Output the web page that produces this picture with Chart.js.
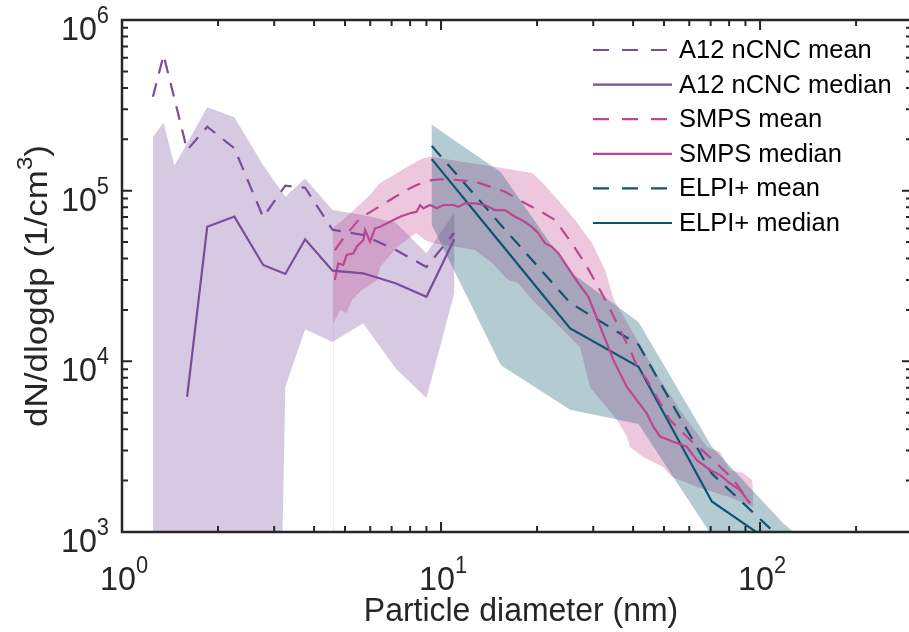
<!DOCTYPE html>
<html><head><meta charset="utf-8">
<script src="https://cdn.jsdelivr.net/npm/chart.js@4.4.1/dist/chart.umd.min.js"></script>
<style>html,body{margin:0;padding:0;background:#fff;}canvas{display:block;}</style>
</head><body>
<canvas id="c" width="909" height="632"></canvas>
<script>
// ---------------- data ----------------
const xTickExps = [0, 1, 2];
const yTickExps = [3, 4, 5, 6];

const a12MeanX   = [1.25, 1.35, 1.6, 1.85, 2.25, 2.77, 3.25, 3.75, 4.57, 5.7, 7.2, 9.0, 11.0];
const a12MeanY   = [3.55e5, 6.24e5, 1.73e5, 2.37e5, 1.77e5, 7.0e4, 1.07e5, 1.04e5, 5.9e4, 5.5e4, 4.5e4, 3.57e4, 5.65e4];
const a12MedianX = [1.6, 1.85, 2.25, 2.77, 3.25, 3.75, 4.57, 5.7, 7.2, 9.0, 11.0];
const a12MedianY = [6.2e3, 6.15e4, 7.05e4, 3.67e4, 3.25e4, 5.19e4, 3.4e4, 3.28e4, 2.87e4, 2.39e4, 5.19e4];
const a12BandX   = [1.25, 1.35, 1.46, 1.85, 2.25, 2.77, 3.25, 3.75, 4.57, 5.7, 7.2, 9.0, 11.0];
const a12UpperY  = [2.07e5, 2.5e5, 1.4e5, 3.08e5, 2.69e5, 1.41e5, 9.2e4, 1.18e5, 7.7e4, 7.2e4, 6.5e4, 4.3e4, 7.4e4];
const a12LowerY  = [1e-3, 1e-3, 1e-3, 1e-3, 1e-3, 1e-3, 7.1e3, 1.54e4, 1.3e4, 1.67e4, 9.1e3, 6.1e3, 2.5e4];

const smpsMeanX = [4.65, 4.94, 5.57, 6.52, 6.92, 7.81, 8.39, 9.35, 10.29, 12.78, 15.87, 18.34, 20.18, 22.78, 25.69, 28.28, 30.6, 33.4, 36.4, 39.1, 41.2, 44.2, 52.2, 60.4, 71.3, 82.3, 93.0];
const smpsMeanY = [4.49e4, 5.26e4, 6.89e4, 8.24e4, 8.82e4, 1.01e5, 1.08e5, 1.155e5, 1.17e5, 1.13e5, 9.86e4, 8.43e4, 7.7e4, 6.73e4, 4.92e4, 3.75e4, 2.88e4, 2.14e4, 1.53e4, 1.17e4, 9.3e3, 7.8e3, 4.53e3, 3.46e3, 2.64e3, 2.04e3, 1.48e3];
const smpsMedianX = [4.65, 4.76, 4.94, 5.06, 5.31, 5.44, 5.71, 5.78, 5.99, 6.21, 6.44, 6.92, 7.44, 7.99, 8.39, 8.6, 8.8, 9.24, 9.69, 10.17, 10.93, 11.33, 11.89, 12.78, 13.74, 14.77, 15.87, 17.06, 17.91, 19.24, 20.18, 21.18, 22.23, 23.32, 24.48, 25.69, 26.94, 28.96, 30.77, 33.07, 34.68, 36.4, 38.2, 41.07, 44.14, 46.3, 48.6, 53.5, 58.9, 63.3, 69.7, 74.9, 80.5, 86.6, 93.0];
const smpsMedianY = [3.0e4, 3.75e4, 3.67e4, 4.2e4, 4.3e4, 4.7e4, 5.14e4, 5.88e4, 5.02e4, 6.02e4, 6.15e4, 6.58e4, 7.04e4, 7.37e4, 7.53e4, 8.24e4, 7.88e4, 8.24e4, 7.88e4, 8.24e4, 8.24e4, 8.05e4, 8.43e4, 8.43e4, 8.24e4, 7.7e4, 7.7e4, 7.04e4, 6.73e4, 6.15e4, 5.63e4, 4.92e4, 4.7e4, 4.3e4, 3.75e4, 3.28e4, 2.87e4, 2.39e4, 1.8e4, 1.28e4, 1.02e4, 8.5e3, 7.1e3, 5.93e3, 4.96e3, 4.14e3, 3.62e3, 3.38e3, 3.16e3, 2.64e3, 2.31e3, 2.16e3, 1.93e3, 1.76e3, 1.47e3];
const smpsUpperX = [4.585, 4.93, 5.45, 5.99, 6.44, 6.92, 7.99, 8.78, 9.24, 12.51, 15.53, 19.29, 20.73, 23.27, 26.31, 29.74, 32.67, 34.85, 42.06, 48.6, 56.1, 68.2, 74.9, 80.5, 88.5, 94.4, 95.1];
const smpsUpperY = [6.04e4, 6.73e4, 8.02e4, 9.43e4, 1.11e5, 1.2e5, 1.41e5, 1.55e5, 1.58e5, 1.45e5, 1.36e5, 1.27e5, 1.12e5, 8.82e4, 6.73e4, 4.94e4, 3.43e4, 2.29e4, 1.25e4, 7.8e3, 5.19e3, 3.15e3, 2.94e3, 2.31e3, 2.22e3, 2.02e3, 1.7e3];
const smpsLowerX = [4.585, 4.6, 4.83, 5.06, 5.26, 5.65, 5.86, 6.3, 6.44, 7.28, 8.35, 8.91, 9.37, 12.78, 14.45, 16.22, 17.43, 19.71, 23.6, 27.3, 29.3, 35.6, 38.3, 39.1, 43.0, 49.7, 53.0, 64.9, 80.5, 95.1];
const smpsLowerY = [1e-3, 1.68e4, 2.0e4, 1.92e4, 2.29e4, 2.62e4, 2.73e4, 3.0e4, 3.57e4, 4.68e4, 5.65e4, 5.14e4, 4.94e4, 4.49e4, 3.77e4, 3.0e4, 2.88e4, 2.2e4, 1.59e4, 1.21e4, 7.07e3, 4.53e3, 3.6e3, 3.15e3, 2.75e3, 2.4e3, 2.1e3, 1.81e3, 1.6e3, 1.4e3];

const elpiX       = [9.35, 15.4, 25.4, 41.6, 70.6, 118, 195];
const elpiMeanY   = [1.83e5, 6.3e4, 2.2e4, 1.25e4, 2.2e3, 8.9e2, 3.0e2];
const elpiMedianY = [1.53e5, 4.9e4, 1.56e4, 9.3e3, 1.51e3, 7.8e2, 2.5e2];
const elpiUpperY  = [2.43e5, 1.28e5, 3.34e4, 1.7e4, 3.16e3, 1.13e3, 5.0e2];
const elpiLowerY  = [6.3e4, 9.5e3, 5.2e3, 4.3e3, 9.5e2, 3.1e2, 1.0e2];

const seriesNames = ['A12 nCNC mean', 'A12 nCNC median', 'SMPS mean', 'SMPS median', 'ELPI+ mean', 'ELPI+ median'];

// ---------------- styling ----------------
const C_A12 = '#7a4c9c', C_SMPS = '#bd4690', C_ELPI = '#0d566f';
const F_A12 = 'rgba(122,76,156,0.30)', F_SMPS = 'rgba(196,70,145,0.30)', F_ELPI = 'rgba(13,86,111,0.31)';
const FONT = '"Liberation Sans", Arial, Helvetica, sans-serif';
const AXC = '#262626';
const DASH = [14, 10];

const pts = (xs, ys) => xs.map((x, i) => ({x, y: ys[i]}));
const band = (ux, uy, lx, ly) => pts(ux, uy).concat(pts(lx, ly).reverse());

function lineDs(label, xs, ys, color, dashed) {
  return {label, data: pts(xs, ys), borderColor: color, backgroundColor: color, borderWidth: 2.2,
    borderDash: dashed ? DASH : [], pointRadius: 0, fill: false, tension: 0, order: 0, isLegend: true};
}
function bandDs(data, color, order) {
  return {label: '', data, borderWidth: 0, borderColor: 'rgba(0,0,0,0)', backgroundColor: color,
    pointRadius: 0, fill: 'shape', tension: 0, order, isLegend: false};
}

const datasets = [
  bandDs(band(a12BandX, a12UpperY, a12BandX, a12LowerY), F_A12, 30),
  bandDs(band(smpsUpperX, smpsUpperY, smpsLowerX, smpsLowerY), F_SMPS, 20),
  bandDs(band(elpiX, elpiUpperY, elpiX, elpiLowerY), F_ELPI, 10),
  lineDs(seriesNames[0], a12MeanX, a12MeanY, C_A12, true),
  lineDs(seriesNames[1], a12MedianX, a12MedianY, C_A12, false),
  lineDs(seriesNames[2], smpsMeanX, smpsMeanY, C_SMPS, true),
  lineDs(seriesNames[3], smpsMedianX, smpsMedianY, C_SMPS, false),
  lineDs(seriesNames[4], elpiX, elpiMeanY, C_ELPI, true),
  lineDs(seriesNames[5], elpiX, elpiMedianY, C_ELPI, false),
];

// ---------------- text helpers ----------------
const TICK_FS = 34, SUP_FS = 23, TICK_SX = 0.95, SUP_RAISE = 17;
function powLabel(ctx, exp, x, y, align) {
  ctx.font = TICK_FS + 'px ' + FONT;
  const wb = ctx.measureText('10').width * TICK_SX;
  ctx.font = SUP_FS + 'px ' + FONT;
  const we = ctx.measureText(String(exp)).width * TICK_SX;
  const left = align === 'center' ? x - (wb + we) / 2 : x - (wb + we);
  ctx.save(); ctx.translate(left, y); ctx.scale(TICK_SX, 1);
  ctx.font = TICK_FS + 'px ' + FONT; ctx.fillText('10', 0, 0); ctx.restore();
  ctx.save(); ctx.translate(left + wb, y - SUP_RAISE); ctx.scale(TICK_SX, 1);
  ctx.font = SUP_FS + 'px ' + FONT; ctx.fillText(String(exp), 0, 0); ctx.restore();
}

const framePlugin = {
  id: 'frame',
  afterDraw(chart) {
    const ctx = chart.ctx, xs = chart.scales.x, ys = chart.scales.y, a = chart.chartArea;
    const rightAxis = a.right + 3; // right edge of the box lies just outside the picture
    ctx.save();
    ctx.strokeStyle = AXC; ctx.fillStyle = AXC; ctx.textBaseline = 'alphabetic'; ctx.textAlign = 'left';
    // box (left, top, bottom)
    ctx.lineWidth = 2.5;
    ctx.beginPath();
    ctx.moveTo(rightAxis, a.top); ctx.lineTo(a.left, a.top); ctx.lineTo(a.left, a.bottom); ctx.lineTo(rightAxis, a.bottom);
    ctx.stroke();
    // ticks
    ctx.lineWidth = 2;
    const MAJ = 10, MIN = 6;
    for (let e = xTickExps[0]; e <= xTickExps[xTickExps.length - 1]; e++) {
      for (let m = 1; m <= 9; m++) {
        const v = m * Math.pow(10, e);
        if (v < xs.min || v > xs.max) continue;
        const px = xs.getPixelForValue(v), L = m === 1 ? MAJ : MIN;
        ctx.beginPath();
        ctx.moveTo(px, a.bottom); ctx.lineTo(px, a.bottom - L);
        ctx.moveTo(px, a.top); ctx.lineTo(px, a.top + L);
        ctx.stroke();
      }
    }
    for (let e = yTickExps[0]; e <= yTickExps[yTickExps.length - 1]; e++) {
      for (let m = 1; m <= 9; m++) {
        const v = m * Math.pow(10, e);
        if (v < ys.min || v > ys.max) continue;
        const py = ys.getPixelForValue(v), L = m === 1 ? MAJ : MIN;
        ctx.beginPath();
        ctx.moveTo(a.left, py); ctx.lineTo(a.left + L, py);
        ctx.moveTo(rightAxis, py); ctx.lineTo(rightAxis - L, py);
        ctx.stroke();
      }
    }
    // tick labels
    xTickExps.forEach(e => powLabel(ctx, e, xs.getPixelForValue(Math.pow(10, e)) + 2, a.bottom + 58, 'center'));
    yTickExps.forEach(e => powLabel(ctx, e, a.left - 13, ys.getPixelForValue(Math.pow(10, e)) + 20, 'right'));
    // x title
    ctx.save();
    ctx.font = '34px ' + FONT; ctx.textAlign = 'center';
    ctx.translate(521, 621); ctx.scale(0.94, 1);
    ctx.fillText('Particle diameter (nm)', 0, 0);
    ctx.restore();
    // y title with superscript 3
    ctx.save();
    ctx.translate(47, 286); ctx.rotate(-Math.PI / 2); ctx.scale(1, 0.92);
    ctx.font = '35px ' + FONT;
    const t1 = 'dN/dlogdp (1/cm', t2 = '3', t3 = ')';
    const w1 = ctx.measureText(t1).width, w3 = ctx.measureText(t3).width;
    ctx.font = '24px ' + FONT; const w2 = ctx.measureText(t2).width;
    let sx0 = -(w1 + w2 + w3) / 2;
    ctx.font = '35px ' + FONT; ctx.fillText(t1, sx0, 0);
    ctx.font = '24px ' + FONT; ctx.fillText(t2, sx0 + w1, -16);
    ctx.font = '35px ' + FONT; ctx.fillText(t3, sx0 + w1 + w2, 0);
    ctx.restore();
    // legend
    const items = chart.data.datasets.filter(d => d.isLegend);
    const lx0 = 593, lx1 = 672, tx = 679, y0 = 50, dy = 34.6;
    ctx.font = '25.5px ' + FONT; ctx.textBaseline = 'middle';
    items.forEach((d, i) => {
      const y = y0 + i * dy;
      ctx.strokeStyle = d.borderColor; ctx.lineWidth = d.borderWidth;
      ctx.setLineDash(d.borderDash.length ? [16, 13] : []);
      ctx.beginPath(); ctx.moveTo(lx0, y); ctx.lineTo(lx1, y); ctx.stroke();
      ctx.setLineDash([]);
      ctx.fillStyle = '#000'; ctx.fillText(d.label, tx, y + 1);
    });
    ctx.restore();
  }
};

new Chart(document.getElementById('c'), {
  type: 'line',
  data: {datasets},
  options: {
    responsive: false, animation: false, devicePixelRatio: 1,
    layout: {padding: {left: 0, right: 0, top: 20, bottom: 0}},
    plugins: {legend: {display: false}, tooltip: {enabled: false}},
    elements: {line: {borderJoinStyle: 'miter'}},
    scales: {
      x: {type: 'logarithmic', min: 1, max: 293, position: 'bottom',
          ticks: {display: false}, grid: {display: false}, border: {display: false},
          afterFit: s => { s.height = 100; }},
      y: {type: 'logarithmic', min: 1e3, max: 1e6, position: 'left',
          ticks: {display: false}, grid: {display: false}, border: {display: false},
          afterFit: s => { s.width = 122; }}
    }
  },
  plugins: [framePlugin]
});
</script>
</body></html>
